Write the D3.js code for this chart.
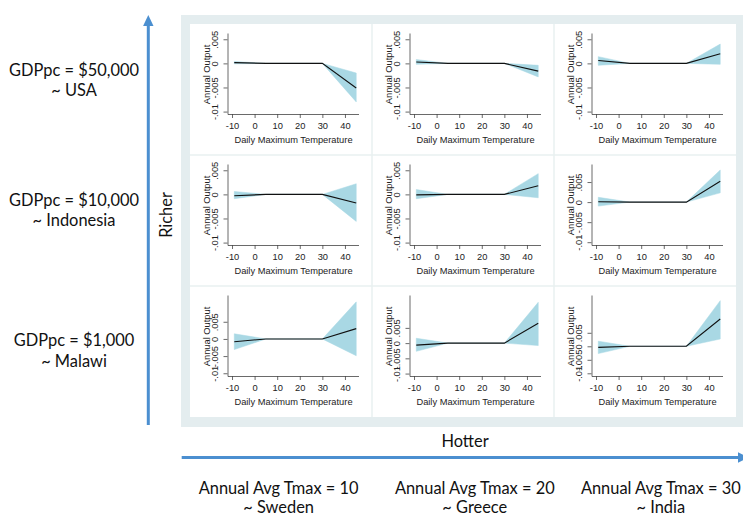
<!DOCTYPE html>
<html><head><meta charset="utf-8">
<script src="https://cdn.jsdelivr.net/npm/d3@7"></script>
<style>body{margin:0;background:#fff}svg{display:block}</style>
</head><body>
<svg id="c" width="743" height="516"></svg>
<script>
// ---------- data ----------
const rowLabels = ["GDPpc = $50,000", "GDPpc = $10,000", "GDPpc = $1,000"];
const rowCountries = ["~ USA", "~ Indonesia", "~ Malawi"];
const colLabels = ["Annual Avg Tmax = 10", "Annual Avg Tmax = 20", "Annual Avg Tmax = 30"];
const colCountries = ["~ Sweden", "~ Greece", "~ India"];
const axisRichLabel = "Richer";
const axisHotLabel = "Hotter";
const xTitle = "Daily Maximum Temperature";
const yTitle = "Annual Output";

const tempKnots = [-9, 5, 30, 45];
const xTicks = [-10, 0, 10, 20, 30, 40];
const yTicks = [-0.01, -0.005, 0, 0.005];

// estimates at knots, per column (Sweden, Greece, India)
const meanRich = [[0.00015, 0, 0, -0.0051], [0.0003, 0, 0, -0.0016], [0.0006, 0, 0, 0.002]];
const loRich   = [[-0.0001, 0, 0, -0.0080], [-0.0002, 0, 0, -0.0028], [-0.0004, 0, 0, -0.0002]];
const hiRich   = [[0.0004, 0, 0, -0.0020], [0.0008, 0, 0, -0.0004], [0.0014, 0, 0, 0.0040]];

const meanMid = [[-0.0003, 0, 0, -0.0018], [-0.0001, 0, 0, 0.0018], [0.0001, 0, 0, 0.0052]];
const loMid   = [[-0.0009, 0, 0, -0.0056], [-0.0009, 0, 0, -0.0007], [-0.0010, 0, 0, 0.0023]];
const hiMid   = [[0.0006, 0, 0, 0.0022], [0.0010, 0, 0, 0.0043], [0.0012, 0, 0, 0.0080]];

const meanPoor = [[-0.0008, 0, 0, 0.0030], [-0.00065, 0, 0, 0.0065], [-0.0004, 0, 0, 0.0101]];
const loPoor   = [[-0.0031, 0, 0, -0.0049], [-0.0027, 0, 0, -0.0008], [-0.0027, 0, 0, 0.0027]];
const hiPoor   = [[0.0015, 0, 0, 0.0108], [0.0016, 0, 0, 0.0134], [0.0019, 0, 0, 0.0169]];

// y-axis ranges of each panel
const yMinRows = [[-0.0105, -0.0105, -0.0105], [-0.0105, -0.0105, -0.0107], [-0.0108, -0.0108, -0.0110]];
const yMaxRows = [[0.0063, 0.0063, 0.0063], [0.0063, 0.0063, 0.0095], [0.0128, 0.0158, 0.0190]];

const meanRows = [meanRich, meanMid, meanPoor];
const loRows = [loRich, loMid, loPoor];
const hiRows = [hiRich, hiMid, hiPoor];

// ---------- drawing ----------
const svg = d3.select("#c");
const BLUE = "#4b8fd0";
const BAND = "#a9d8e4";
const BIG_FONT = "Lato, 'Open Sans', sans-serif";
const SMALL_FONT = "'Liberation Sans', Arial, sans-serif";

// frame
svg.append("rect").attr("x", 181).attr("y", 15).attr("width", 562).attr("height", 412).attr("fill", "#e4edef");
const gridX0 = 190, gridY0 = 24, cellW = 182, cellH = 131;
svg.append("rect").attr("x", gridX0).attr("y", gridY0).attr("width", cellW * 3).attr("height", cellH * 3).attr("fill", "#fff");
for (let i = 1; i < 3; i++) {
  svg.append("line").attr("x1", gridX0 + i * cellW).attr("x2", gridX0 + i * cellW)
    .attr("y1", gridY0).attr("y2", gridY0 + 3 * cellH).attr("stroke", "#e8f0f1").attr("stroke-width", 1.5);
  svg.append("line").attr("y1", gridY0 + i * cellH).attr("y2", gridY0 + i * cellH)
    .attr("x1", gridX0).attr("x2", gridX0 + 3 * cellW).attr("stroke", "#e8f0f1").attr("stroke-width", 1.5);
}

const fmtY = d => d === 0 ? "0" : d3.format(".3~f")(d).replace("\u2212", "-").replace("0.", ".");

for (let r = 0; r < 3; r++) {
  for (let c = 0; c < 3; c++) {
    const cx = gridX0 + c * cellW, cy = gridY0 + r * cellH;
    const ax = cx + 37.5, top = cy + 9, bot = cy + 90;
    const x = d3.scaleLinear().domain([-12, 46]).range([ax, ax + 131]);
    const y = d3.scaleLinear().domain([yMinRows[r][c], yMaxRows[r][c]]).range([bot, top]);
    const g = svg.append("g");
    const pts = tempKnots.map((t, i) => ({t, m: meanRows[r][c][i], lo: loRows[r][c][i], hi: hiRows[r][c][i]}));
    g.append("path").datum(pts)
      .attr("d", d3.area().x(d => x(d.t)).y0(d => y(d.lo)).y1(d => y(d.hi)))
      .attr("fill", BAND).attr("stroke", BAND).attr("stroke-width", 0.5);
    g.append("path").datum(pts)
      .attr("d", d3.line().x(d => x(d.t)).y(d => y(d.m)))
      .attr("fill", "none").attr("stroke", "#111").attr("stroke-width", 1.1);

    // x axis
    const xa = g.append("g").attr("transform", `translate(0,${bot})`)
      .call(d3.axisBottom(x).tickValues(xTicks).tickFormat(d => String(d)).tickSize(4).tickSizeOuter(0).tickPadding(4));
    xa.select(".domain").attr("stroke", "#444").attr("stroke-width", 0.8);
    xa.selectAll(".tick line").attr("stroke", "#444").attr("stroke-width", 0.8);
    xa.selectAll("text").attr("font-family", SMALL_FONT).attr("font-size", 9.3).attr("fill", "#222");
    // y axis
    const ya = g.append("g").attr("transform", `translate(${ax},0)`)
      .call(d3.axisLeft(y).tickValues(yTicks).tickFormat(fmtY).tickSize(4).tickSizeOuter(0));
    ya.select(".domain").attr("stroke", "#444").attr("stroke-width", 0.8);
    ya.selectAll(".tick line").attr("stroke", "#444").attr("stroke-width", 0.8);
    ya.selectAll(".tick text")
      .attr("x", null).attr("dy", null)
      .attr("transform", "translate(-10,0) rotate(-90)")
      .attr("text-anchor", "middle")
      .attr("font-family", SMALL_FONT).attr("font-size", 9.3).attr("fill", "#222");
    // titles
    g.append("text").attr("transform", `translate(${ax - 17.5},${(top + bot) / 2 + 1}) rotate(-90)`)
      .attr("text-anchor", "middle").attr("font-family", SMALL_FONT).attr("font-size", 9.3).attr("fill", "#222")
      .text(yTitle);
    g.append("text").attr("x", ax + 66).attr("y", cy + 118.5)
      .attr("text-anchor", "middle").attr("font-family", SMALL_FONT).attr("font-size", 9.3).attr("fill", "#222")
      .text(xTitle);
  }
}

// arrows
svg.append("line").attr("x1", 148.3).attr("x2", 148.3).attr("y1", 425).attr("y2", 25)
  .attr("stroke", BLUE).attr("stroke-width", 3);
svg.append("path").attr("d", "M148.3,15 L153.5,26 L143.1,26 Z").attr("fill", BLUE);
svg.append("line").attr("x1", 181.7).attr("x2", 738).attr("y1", 457.5).attr("y2", 457.5)
  .attr("stroke", BLUE).attr("stroke-width", 3);
svg.append("path").attr("d", "M749,457.5 L738,452.3 L738,462.7 Z").attr("fill", BLUE);

// big labels: size fitted to reference width of one label
const probe = svg.append("text").attr("font-family", BIG_FONT).attr("font-size", 16).text(colLabels[1]);
const w16 = probe.node().getComputedTextLength();
probe.remove();
const bigSize = 16 * 160 / w16;

function big(txt, x, yy) {
  return svg.append("text").attr("x", x).attr("y", yy).attr("text-anchor", "middle")
    .attr("font-family", BIG_FONT).attr("font-size", bigSize).attr("fill", "#111").text(txt);
}
const rowLine1 = [75.5, 205.5, 345.5], rowLine2 = [96, 226, 367];
rowLabels.forEach((t, i) => { big(t, 74, rowLine1[i]); big(rowCountries[i], 74, rowLine2[i]); });
const colCenters = [278.6, 474.8, 660.8];
colLabels.forEach((t, i) => { big(t, colCenters[i], 493.5); big(colCountries[i], colCenters[i], 513); });
big(axisHotLabel, 465, 447.3);
svg.append("text").attr("transform", "translate(172,215) rotate(-90)").attr("text-anchor", "middle")
  .attr("font-family", BIG_FONT).attr("font-size", bigSize).attr("fill", "#111").text(axisRichLabel);
</script>
</body></html>
